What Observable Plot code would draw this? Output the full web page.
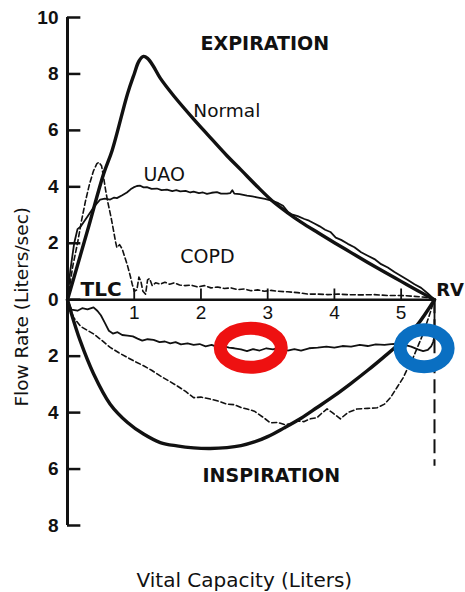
<!DOCTYPE html>
<html>
<head>
<meta charset="utf-8">
<script src="https://cdn.jsdelivr.net/npm/d3@7"></script>
<script src="https://cdn.jsdelivr.net/npm/@observablehq/plot@0.6"></script>
<style>
  html, body { margin: 0; padding: 0; background: #fff; }
  #chart svg { display: block; }
</style>
</head>
<body>
<div id="chart"></div>
<script>
// ---- data: [vital capacity (L), flow (L/s)]; inspiration flow stored negative ----
const xTicks = [1, 2, 3, 4, 5];
const yTicks = [-8, -6, -4, -2, 0, 2, 4, 6, 8, 10];
const rvVolume = 5.5;
const rvDashBottom = -5.9;

const normalExp = [[0,0],[0.3,2.45],[0.54,4.45],[0.67,5.3],[0.9,7.3],[1.0,8.0],[1.07,8.45],[1.14,8.62],[1.2,8.55],[1.28,8.3],[1.39,7.85],[1.6,7.2],[1.89,6.4],[2.1,5.85],[2.39,5.1],[2.6,4.6],[2.84,4.02],[3.07,3.5],[3.3,3.08],[3.5,2.75],[3.75,2.38],[4.0,2.02],[4.25,1.67],[4.5,1.32],[4.75,0.98],[5.0,0.65],[5.25,0.32],[5.5,0]];

const normalInsp = [[0,0],[0.05,-0.42],[0.19,-1.45],[0.39,-2.62],[0.64,-3.7],[0.9,-4.35],[1.14,-4.76],[1.39,-5.06],[1.64,-5.18],[1.89,-5.25],[2.14,-5.27],[2.39,-5.24],[2.6,-5.17],[2.8,-5.04],[3.0,-4.85],[3.24,-4.55],[3.5,-4.2],[3.74,-3.82],[4.0,-3.4],[4.24,-2.98],[4.5,-2.5],[4.73,-2.05],[5.0,-1.5],[5.24,-0.9],[5.5,0]];

const uaoExp = [[0,0],[0.04,1.0],[0.1,2.0],[0.15,2.5],[0.2,2.6],[0.3,2.95],[0.4,3.3],[0.49,3.55],[0.56,3.58],[0.64,3.55],[0.7,3.62],[0.74,3.6],[0.82,3.7],[0.89,3.8],[0.95,3.92],[0.99,3.98],[1.04,4.03],[1.09,4.04],[1.14,3.98],[1.19,3.99],[1.26,3.93],[1.34,3.94],[1.41,3.88],[1.49,3.9],[1.57,3.85],[1.63,3.88],[1.69,3.84],[1.77,3.86],[1.84,3.8],[1.89,3.83],[1.97,3.78],[2.03,3.8],[2.09,3.75],[2.16,3.79],[2.24,3.81],[2.3,3.76],[2.39,3.76],[2.44,3.78],[2.47,3.88],[2.5,3.76],[2.58,3.74],[2.69,3.69],[2.77,3.66],[2.84,3.63],[2.96,3.57],[3.07,3.5],[3.16,3.42],[3.23,3.33],[3.3,3.12],[3.36,3.02],[3.45,2.96],[3.55,2.86],[3.62,2.8],[3.7,2.7],[3.78,2.6],[3.86,2.48],[3.94,2.4],[4.02,2.2],[4.1,2.12],[4.2,1.98],[4.3,1.86],[4.4,1.68],[4.5,1.56],[4.6,1.44],[4.7,1.26],[4.8,1.14],[4.9,0.98],[5.0,0.84],[5.1,0.7],[5.2,0.55],[5.3,0.42],[5.4,0.22],[5.5,0]];

const uaoInsp = [[0,0],[0.06,-0.35],[0.15,-0.39],[0.22,-0.3],[0.3,-0.34],[0.39,-0.27],[0.45,-0.4],[0.5,-0.55],[0.56,-0.82],[0.62,-1.1],[0.68,-1.2],[0.75,-1.15],[0.82,-1.25],[0.9,-1.27],[0.98,-1.3],[1.05,-1.38],[1.12,-1.45],[1.2,-1.4],[1.29,-1.42],[1.38,-1.5],[1.46,-1.48],[1.54,-1.55],[1.62,-1.5],[1.7,-1.58],[1.8,-1.55],[1.89,-1.6],[1.98,-1.57],[2.07,-1.65],[2.16,-1.6],[2.25,-1.68],[2.33,-1.64],[2.42,-1.7],[2.5,-1.72],[2.6,-1.76],[2.69,-1.82],[2.78,-1.75],[2.88,-1.8],[2.98,-1.72],[3.08,-1.76],[3.18,-1.7],[3.3,-1.8],[3.4,-1.75],[3.5,-1.8],[3.62,-1.72],[3.75,-1.7],[3.88,-1.66],[4.0,-1.7],[4.12,-1.64],[4.25,-1.66],[4.38,-1.6],[4.5,-1.64],[4.62,-1.58],[4.75,-1.6],[4.85,-1.57],[4.95,-1.56],[5.05,-1.6],[5.15,-1.66],[5.25,-1.76],[5.33,-1.82],[5.4,-1.78],[5.45,-1.65],[5.48,-1.5],[5.5,-1.3],[5.5,0]];

const copdExp = [[0,0],[0.02,0.3],[0.08,1.2],[0.15,2.0],[0.21,2.8],[0.27,3.5],[0.33,4.1],[0.39,4.57],[0.44,4.82],[0.47,4.87],[0.51,4.75],[0.54,4.35],[0.57,3.9],[0.6,3.5],[0.65,2.95],[0.69,2.45],[0.72,2.05],[0.74,1.85],[0.78,1.95],[0.82,1.8],[0.86,1.5],[0.9,1.2],[0.94,0.85],[0.97,0.55],[1.0,0.3],[1.04,0.35],[1.07,0.8],[1.1,0.65],[1.13,0.3],[1.17,0.2],[1.2,0.7],[1.23,0.75],[1.27,0.5],[1.32,0.6],[1.39,0.55],[1.46,0.62],[1.53,0.55],[1.6,0.6],[1.68,0.52],[1.76,0.5],[1.85,0.52],[1.95,0.45],[2.05,0.5],[2.15,0.42],[2.25,0.45],[2.35,0.4],[2.45,0.42],[2.55,0.36],[2.65,0.38],[2.75,0.32],[2.85,0.35],[2.95,0.3],[3.05,0.33],[3.15,0.3],[3.3,0.28],[3.45,0.25],[3.6,0.2],[3.75,0.2],[3.9,0.18],[4.05,0.2],[4.2,0.18],[4.4,0.17],[4.6,0.18],[4.8,0.15],[5.0,0.15],[5.2,0.12],[5.4,0.08],[5.5,0]];

const copdInsp = [[0,0],[0.09,-0.63],[0.2,-0.95],[0.39,-1.21],[0.52,-1.45],[0.64,-1.69],[0.77,-1.88],[0.9,-2.05],[1.02,-2.2],[1.14,-2.34],[1.26,-2.5],[1.39,-2.7],[1.52,-2.88],[1.64,-3.05],[1.77,-3.25],[1.89,-3.47],[2.0,-3.45],[2.14,-3.52],[2.27,-3.6],[2.39,-3.7],[2.5,-3.72],[2.6,-3.82],[2.69,-3.87],[2.8,-3.95],[2.94,-4.18],[3.04,-4.36],[3.15,-4.35],[3.25,-4.42],[3.34,-4.4],[3.45,-4.3],[3.54,-4.32],[3.64,-4.22],[3.74,-4.18],[3.82,-4.0],[3.89,-3.87],[3.97,-4.0],[4.09,-4.22],[4.2,-4.0],[4.34,-3.87],[4.5,-3.85],[4.64,-3.83],[4.75,-3.7],[4.84,-3.47],[4.94,-3.1],[5.03,-2.77],[5.1,-2.42],[5.18,-2.05],[5.26,-1.6],[5.33,-1.2],[5.38,-0.85],[5.43,-0.5],[5.47,-0.2],[5.5,0]];

// highlight ovals (centres in data units)
const ovalCenters = [[2.754, -1.72], [5.352, -1.74]];
const ovalColors = ["#ee1111", "#0a6fc2"];

// ---- chart ----
const font = "DejaVu Sans, sans-serif";
const numFont = "Liberation Sans, Arial, sans-serif";
const px = d => d[0], py = d => d[1];

function ovals(index, scales) {
  const g = d3.create("svg:g");
  const radii = [[30.5, 19.5], [24, 18.5]];
  ovalCenters.forEach((c, i) => {
    g.append("ellipse")
      .attr("cx", scales.x(c[0])).attr("cy", scales.y(c[1]))
      .attr("rx", radii[i][0]).attr("ry", radii[i][1])
      .attr("fill", "none").attr("stroke", ovalColors[i]).attr("stroke-width", 13);
  });
  return g.node();
}

const chart = Plot.plot({
  width: 465,
  height: 592,
  marginLeft: 67,
  marginRight: 31,
  marginTop: 17,
  marginBottom: 67,
  x: {domain: [0, rvVolume], axis: null},
  y: {domain: [-8, 10], axis: null},
  style: {background: "#fff", color: "#111"},
  marks: [
    // axes
    Plot.ruleX([0], {y1: -8, y2: 10, stroke: "#111", strokeWidth: 3}),
    Plot.ruleY([0], {x1: 0, x2: rvVolume, stroke: "#111", strokeWidth: 2.5}),
    Plot.ruleY(yTicks, {y: d => d, x1: 0, x2: 0.2, stroke: "#111", strokeWidth: 2.5}),
    Plot.ruleX(xTicks, {x: d => d, y1: 0, y2: 0.38, stroke: "#111", strokeWidth: 1.8}),
    Plot.text(yTicks, {x: 0, y: d => d, dx: -9, text: d => String(Math.abs(d)), textAnchor: "end",
      fontFamily: numFont, fontSize: 19, fontWeight: "bold", fill: "#111"}),
    Plot.text(xTicks, {x: d => d, y: 0, dy: 13, text: d => String(d),
      fontFamily: numFont, fontSize: 19, fill: "#111"}),
    // RV dashed line
    Plot.ruleX([rvVolume], {y1: 0, y2: rvDashBottom, stroke: "#111", strokeWidth: 2, strokeDasharray: "14,6"}),
    // curves
    Plot.line(copdExp, {x: px, y: py, stroke: "#111", strokeWidth: 1.6, strokeDasharray: "5,3"}),
    Plot.line(copdInsp, {x: px, y: py, stroke: "#111", strokeWidth: 1.6, strokeDasharray: "5,3"}),
    Plot.line(uaoExp, {x: px, y: py, stroke: "#111", strokeWidth: 1.8}),
    Plot.line(uaoInsp, {x: px, y: py, stroke: "#111", strokeWidth: 1.8}),
    Plot.line(normalExp, {x: px, y: py, stroke: "#111", strokeWidth: 3.4, curve: "catmull-rom"}),
    Plot.line(normalInsp, {x: px, y: py, stroke: "#111", strokeWidth: 3.4, curve: "catmull-rom"}),
    // annotations
    Plot.text(["EXPIRATION"], {x: 2.957, y: 9.06, text: d => d, fontFamily: font, fontSize: 19, fontWeight: "bold", fill: "#111"}),
    Plot.text(["INSPIRATION"], {x: 3.054, y: -6.24, text: d => d, fontFamily: font, fontSize: 19, fontWeight: "bold", fill: "#111"}),
    Plot.text(["Normal"], {x: 1.886, y: 6.7, text: d => d, textAnchor: "start", fontFamily: font, fontSize: 18.5, fill: "#111"}),
    Plot.text(["UAO"], {x: 1.138, y: 4.43, text: d => d, textAnchor: "start", fontFamily: font, fontSize: 19, fill: "#111"}),
    Plot.text(["COPD"], {x: 1.69, y: 1.51, text: d => d, textAnchor: "start", fontFamily: font, fontSize: 19, fill: "#111"}),
    Plot.text(["TLC"], {x: 0.195, y: 0.37, text: d => d, textAnchor: "start", fontFamily: font, fontSize: 20, fontWeight: "bold", fill: "#111"}),
    Plot.text(["RV"], {x: 5.525, y: 0.35, text: d => d, textAnchor: "start", fontFamily: font, fontSize: 18, fontWeight: "bold", fill: "#111"}),
    // axis titles
    Plot.text(["Flow Rate (Liters/sec)"], {x: -0.674, y: -0.25, text: d => d, rotate: -90, fontFamily: font, fontSize: 18.5, fill: "#111"}),
    Plot.text(["Vital Capacity (Liters)"], {x: 2.65, y: -9.96, text: d => d, fontFamily: font, fontSize: 20, fill: "#111"}),
    // highlight ovals
    ovals
  ]
});
document.getElementById("chart").appendChild(chart);
</script>
</body>
</html>
